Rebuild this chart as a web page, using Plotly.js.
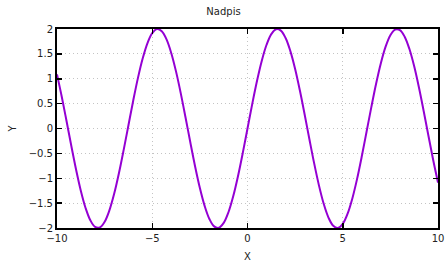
<!DOCTYPE html>
<html>
<head>
<meta charset="utf-8">
<script src="https://cdn.plot.ly/plotly-3.0.1.min.js"></script>
<style>html,body{margin:0;padding:0;background:#fff;}</style>
</head>
<body>
<div id="chart" style="width:447px;height:262px;"></div>
<script>
const chartTitle = "Nadpis";
const xLabel = "X";
const yLabel = "Y";
const xValues = [-10,-9.75,-9.5,-9.25,-9,-8.75,-8.5,-8.25,-8,-7.75,-7.5,-7.25,-7,-6.75,-6.5,-6.25,-6,-5.75,-5.5,-5.25,-5,-4.75,-4.5,-4.25,-4,-3.75,-3.5,-3.25,-3,-2.75,-2.5,-2.25,-2,-1.75,-1.5,-1.25,-1,-0.75,-0.5,-0.25,0,
  0.25,0.5,0.75,1,1.25,1.5,1.75,2,2.25,2.5,2.75,3,3.25,3.5,3.75,4,4.25,4.5,4.75,5,5.25,5.5,5.75,6,6.25,6.5,6.75,7,7.25,7.5,7.75,8,8.25,8.5,8.75,9,9.25,9.5,9.75,10];
const yValues = [1.088,0.639,0.150,-0.348,-0.824,-1.250,-1.597,-1.845,-1.979,-1.989,-1.876,-1.646,-1.314,-0.900,-0.430,0.066,0.559,1.017,1.411,1.718,1.918,1.999,1.955,1.790,1.514,1.143,0.702,0.216,-0.282,-0.763,-1.197,-1.556,-1.819,-1.968,-1.995,-1.898,-1.683,-1.363,-0.959,-0.495,0,
  0.495,0.959,1.363,1.683,1.898,1.995,1.968,1.819,1.556,1.197,0.763,0.282,-0.216,-0.702,-1.143,-1.514,-1.790,-1.955,-1.999,-1.918,-1.718,-1.411,-1.017,-0.559,-0.066,0.430,0.900,1.314,1.646,1.876,1.989,1.979,1.845,1.597,1.250,0.824,0.348,-0.150,-0.639,-1.088];

const font = {family: "DejaVu Sans, sans-serif", size: 10, color: "#222"};
const axisCommon = {
  showline: true, linecolor: "#000", linewidth: 2, mirror: "ticks",
  ticks: "inside", ticklen: 5, tickwidth: 1.5, tickcolor: "#000",
  showgrid: true, gridcolor: "#c4c4c4", gridwidth: 1, griddash: "1px,3px",
  zeroline: false, tickfont: font, automargin: false
};
Plotly.newPlot("chart", [{
  x: xValues, y: yValues, type: "scatter", mode: "lines",
  line: {color: "#9400d3", width: 2, shape: "spline", smoothing: 1},
  showlegend: false, hoverinfo: "none"
}], {
  width: 447, height: 262,
  margin: {l: 57, r: 9, t: 29, b: 34},
  paper_bgcolor: "#fff", plot_bgcolor: "#fff",
  font: font,
  title: {text: chartTitle, font: font, x: 0.5, xanchor: "center", y: 0.955, yanchor: "middle"},
  xaxis: Object.assign({}, axisCommon, {range: [-10, 10], tick0: -10, dtick: 5}),
  yaxis: Object.assign({}, axisCommon, {range: [-2, 2], tick0: -2, dtick: 0.5}),
  annotations: [
    {text: xLabel, xref: "paper", yref: "paper", x: 0.5, y: -0.141, xanchor: "center", yanchor: "middle", showarrow: false, borderpad: 0, font: font},
    {text: yLabel, xref: "paper", yref: "paper", x: -0.118, y: 0.5, xanchor: "center", yanchor: "middle", textangle: -90, showarrow: false, borderpad: 0, font: font}
  ]
}, {displayModeBar: false, staticPlot: true});
</script>
</body>
</html>
